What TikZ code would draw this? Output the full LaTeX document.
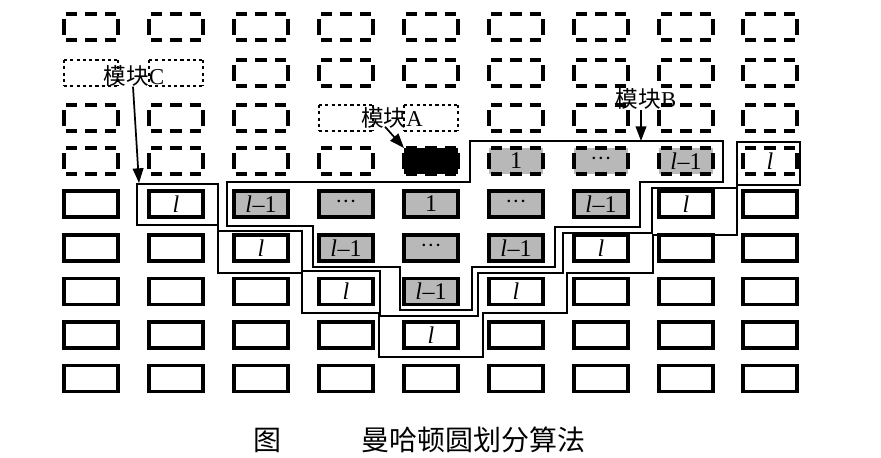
\documentclass[tikz,border=0pt]{standalone}
\usepackage{fontspec}
\setmainfont{Liberation Serif}
\newfontfamily\cjk{Noto Sans CJK SC}
\usetikzlibrary{arrows.meta,calc}
\definecolor{cellgray}{RGB}{184,184,184}
\newcommand\li{\textit{l}}
\newcommand\lm{\textit{l}\kern0.5pt–1}
\newcommand\dd{{\fontsize{16pt}{16pt}\selectfont ···}}
\newcommand\boxsides[3]{%
  \draw[#2] (#1.north west) -- (#1.north east);
  \draw[#2] (#1.south west) -- (#1.south east);
  \draw[#3] (#1.north west) -- (#1.south west);
  \draw[#3] (#1.north east) -- (#1.south east);}
\tikzset{
  cell/.style={rectangle, minimum width=40.5pt, minimum height=19.5pt, inner sep=0pt, outer sep=0pt, font=\fontsize{18pt}{18pt}\selectfont},
  cellw/.style={cell, draw=black, line width=2.3pt},
  cellg/.style={cellw, fill=cellgray},
  celld/.style={cell},
  cellgd/.style={cell, fill=cellgray},
  cellbd/.style={cell, fill=black},
  dh/.style={line width=2.3pt, dash pattern=on 8.5pt off 6pt, dash phase=13pt},
  dv/.style={line width=2.3pt, dash pattern=on 12pt off 20pt, dash phase=28.25pt},
  th/.style={line width=2pt, dash pattern=on 2.4pt off 2.3pt},
  region/.style={line width=1.1pt, line join=miter},
  pointer/.style={line width=1.3pt, -{Triangle[length=11pt,width=8pt]}},
  lab/.style={inner sep=0pt, font=\fontsize{17pt}{17pt}\selectfont},
  captext/.style={inner sep=0pt, font=\fontsize{21pt}{21pt}\selectfont\cjk},
}
\begin{document}
\begin{tikzpicture}[x=0.75pt,y=-0.75pt]
\useasboundingbox (0,0) rectangle (881,457);
% module B region
\draw[region] (470,141) -- (723,141) -- (723,182) -- (640,182) -- (640,227) -- (555,227)
  -- (555,267) -- (472,267) -- (472,310) -- (400,310) -- (400,267) -- (313,267)
  -- (313,226) -- (227,226) -- (227,182) -- (470,182) -- cycle;
% module C region
\draw[region] (137,184) -- (218,184) -- (218,231) -- (302,231) -- (302,271) -- (380,271)
  -- (380,316) -- (478,316) -- (478,273) -- (563,273) -- (563,233) -- (652,233)
  -- (652,188) -- (737,188) -- (737,142) -- (800,142) -- (800,185) -- (737,185)
  -- (737,235) -- (653,235) -- (653,273) -- (567,273) -- (567,313) -- (483,313)
  -- (483,357) -- (379,357) -- (379,313) -- (302,313) -- (302,273) -- (218,273)
  -- (218,225) -- (137,225) -- cycle;
% rows 1-3
\foreach \r/\y in {1/27,2/73,3/118}{
  \foreach \c/\x in {1/91,2/176,3/261,4/346,5/431,6/516,7/601,8/686,9/770}{
    \node[cell] (c\r-\c) at (\x,\y) {};
  }
}
% row 4
\foreach \c/\x/\s/\t in {1/91/d/{},2/176/d/{},3/261/d/{},4/346/d/{},5/431/bd/{},6/516/gd/1,7/601/gd/\dd,8/686/gd/\lm,9/770/d/\li}{
  \node[cell\s] (c4-\c) at (\x,161) {\t};
}
% row 5
\foreach \c/\x/\s/\t in {1/91/w/{},2/176/w/\li,3/261/g/\lm,4/346/g/\dd,5/431/g/1,6/516/g/\dd,7/601/g/\lm,8/686/w/\li,9/770/w/{}}{
  \node[cell\s] (c5-\c) at (\x,204) {\t};
}
% row 6
\foreach \c/\x/\s/\t in {1/91/w/{},2/176/w/{},3/261/w/\li,4/346/g/\lm,5/431/g/\dd,6/516/g/\lm,7/601/w/\li,8/686/w/{},9/770/w/{}}{
  \node[cell\s] (c6-\c) at (\x,248) {\t};
}
% row 7
\foreach \c/\x/\s/\t in {1/91/w/{},2/176/w/{},3/261/w/{},4/346/w/\li,5/431/g/\lm,6/516/w/\li,7/601/w/{},8/686/w/{},9/770/w/{}}{
  \node[cell\s] (c7-\c) at (\x,291.5) {\t};
}
% row 8
\foreach \c/\x/\s/\t in {1/91/w/{},2/176/w/{},3/261/w/{},4/346/w/{},5/431/w/\li,6/516/w/{},7/601/w/{},8/686/w/{},9/770/w/{}}{
  \node[cell\s] (c8-\c) at (\x,335) {\t};
}
% row 9
\foreach \c/\x in {1/91,2/176,3/261,4/346,5/431,6/516,7/601,8/686,9/770}{
  \node[cellw] (c9-\c) at (\x,378.5) {};
}
% dashed and dotted outlines of the upper rows
\foreach \n in {1-1,1-2,1-3,1-4,1-5,1-6,1-7,1-8,1-9,2-3,2-4,2-5,2-6,2-7,2-8,2-9,3-1,3-2,3-3,3-6,3-7,3-8,3-9,4-1,4-2,4-3,4-4,4-5,4-6,4-7,4-8,4-9}{
  \boxsides{c\n}{dh}{dv}
}
\foreach \n in {2-1,2-2,3-4,3-5}{
  \boxsides{c\n}{th}{th}
}
% labels and pointers
\node[lab] (labC) at (134,76) {{\cjk 模块}C};
\node[lab] (labA) at (392,118) {{\cjk 模块}A};
\node[lab] (labB) at (646,99) {{\cjk 模块}B};
\coordinate (Ctip) at (139,183);
\coordinate (Btip) at (641,141);
\draw[pointer] ($(labC.south)+(-1,0)$) -- (Ctip);
\draw[pointer] ($(labA.south)+(-7,-2)$) -- (c4-5.north west);
\draw[pointer] (labB.south -| Btip) -- (Btip);
% caption
\node[captext] (fig) at (267,440) {图};
\node[captext] (title) at (473,440) {曼哈顿圆划分算法};
\end{tikzpicture}
\end{document}
